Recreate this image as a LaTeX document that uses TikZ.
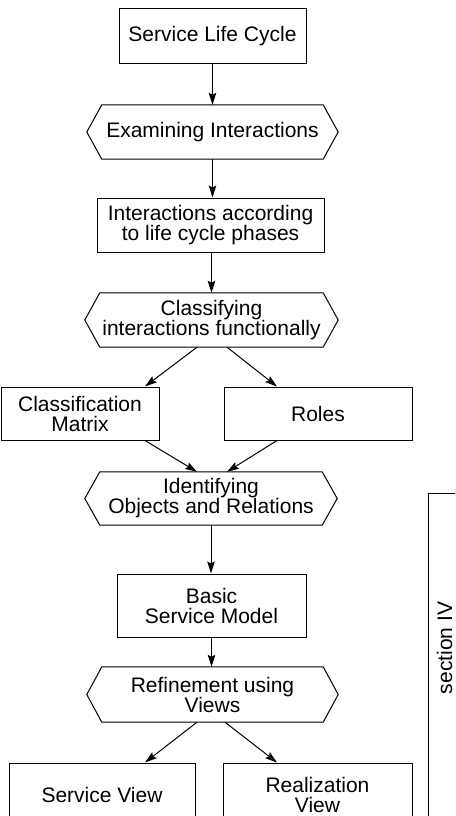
\documentclass[tikz,border=0pt]{standalone}
\usepackage{fontspec}
\setmainfont{Liberation Sans}
\usetikzlibrary{arrows.meta,calc}
\begin{document}
\begin{tikzpicture}[x=1pt,y=-1pt,
  every node/.style={font=\fontsize{21}{20}\selectfont, align=center, inner sep=0pt},
  boxnode/.style={draw, line width=1pt, rectangle},
  hexnode/.style={rectangle},
  arr/.style={line width=1pt, -{Stealth[length=12pt,width=7.5pt,inset=2pt]}},
  hexline/.style={line width=1pt, line join=miter},
  bracketline/.style={line width=0.9pt}
]
\useasboundingbox (0,0) rectangle (455,816);
\clip (0,0) rectangle (455,816);

\node[boxnode, minimum width=187pt, minimum height=55pt] (slc) at (212.5,36.5) {Service Life Cycle};
\node[hexnode, minimum width=221pt, minimum height=54pt] (exam) at (212.5,132) {Examining Interactions};
\node[boxnode, minimum width=227pt, minimum height=54pt] (inter) at (210.5,225) {Interactions according\\to life cycle phases};
\node[hexnode, minimum width=223pt, minimum height=54pt] (classif) at (211.5,320) {Classifying\\interactions functionally};
\node[boxnode, minimum width=158pt, minimum height=53pt] (cm) at (80,413.5) {Classification\\Matrix};
\node[boxnode, minimum width=188pt, minimum height=53pt] (roles) at (318,413.5) {Roles};
\node[hexnode, minimum width=222pt, minimum height=53pt] (ident) at (211,498.5) {Identifying\\Objects and Relations};
\node[boxnode, minimum width=189pt, minimum height=63pt] (basic) at (211.5,605.5) {Basic\\Service Model};
\node[hexnode, minimum width=221pt, minimum height=55pt] (refine) at (212.5,694.5) {Refinement using\\Views};
\node[boxnode, minimum width=186pt, minimum height=64pt] (sview) at (102,795) {Service View};
\node[boxnode, minimum width=189pt, minimum height=64pt] (rview) at (317.5,795) {Realization\\View};

\foreach \n in {exam,classif,ident,refine}{
  \draw[hexline] (\n.north west) -- (\n.north east) -- ([xshift=15pt]\n.east) -- (\n.south east) -- (\n.south west) -- ([xshift=-15pt]\n.west) -- cycle;
}

\draw[arr] (slc.south) -- (slc.south |- exam.north);
\draw[arr] (exam.south) -- (exam.south |- inter.north);
\draw[arr] (inter.south -| classif.north) -- (classif.north);
\draw[arr] ($(classif.south)+(-14.5,0)$) -- ($(cm.north)+(65,0)$);
\draw[arr] ($(classif.south)+(15.5,0)$) -- ($(roles.north)+(-41,0)$);
\draw[arr] ($(cm.south)+(65,0)$) -- ($(ident.north)+(-14,0)$);
\draw[arr] ($(roles.south)+(-41,0)$) -- ($(ident.north)+(16,0)$);
\draw[arr] (ident.south) -- (ident.south |- basic.north);
\draw[arr] (basic.south) -- (basic.south |- refine.north);
\draw[arr] ($(refine.south)+(-15.5,0)$) -- ($(sview.north)+(43,0)$);
\draw[arr] ($(refine.south)+(12.5,0)$) -- ($(rview.north)+(-40.5,0)$);

\coordinate (bt) at (456,493);
\coordinate (bc) at (428,493);
\coordinate (bb) at (428,830);
\draw[bracketline] (bt) -- (bc) -- (bb);
\node[rotate=90] (sec) at (444.5,648) {section IV};
\end{tikzpicture}
\end{document}
